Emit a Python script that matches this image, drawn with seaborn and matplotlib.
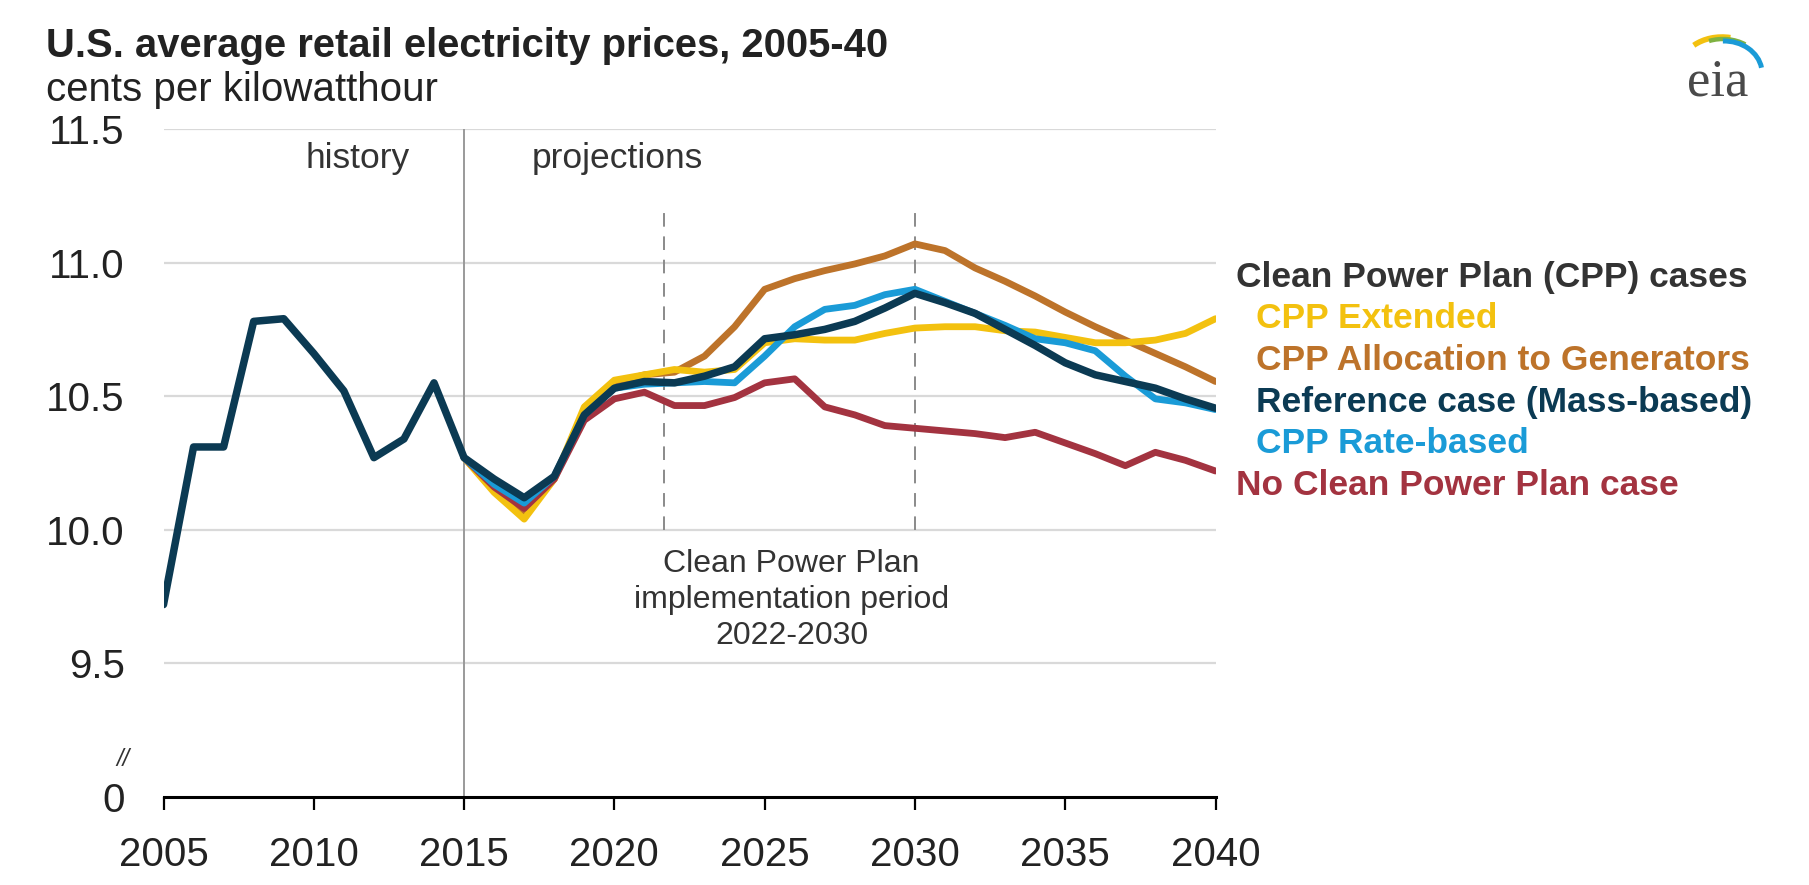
import numpy as np
import pandas as pd
import matplotlib
matplotlib.use("Agg")
import matplotlib.pyplot as plt
from matplotlib.patches import Arc
import seaborn as sns

# ---------------- data ----------------
years_all = list(range(2005, 2041))
years_proj = list(range(2015, 2041))

reference = [9.72, 10.31, 10.31, 10.78, 10.79, 10.66, 10.52, 10.27, 10.34, 10.55,
             10.27, 10.19, 10.12, 10.20, 10.43, 10.53, 10.555, 10.55, 10.575, 10.61,
             10.715, 10.73, 10.75, 10.78, 10.83, 10.885, 10.85, 10.81, 10.75, 10.69,
             10.625, 10.58, 10.555, 10.53, 10.49, 10.455]
cpp_extended = [10.27, 10.14, 10.04, 10.19, 10.46, 10.56, 10.58, 10.60, 10.59, 10.60,
                10.70, 10.715, 10.71, 10.71, 10.735, 10.755, 10.76, 10.76, 10.745, 10.74,
                10.72, 10.70, 10.70, 10.71, 10.735, 10.79]
cpp_allocation = [10.27, 10.15, 10.06, 10.19, 10.44, 10.55, 10.58, 10.59, 10.65, 10.76,
                  10.90, 10.94, 10.97, 10.995, 11.025, 11.07, 11.045, 10.98, 10.93, 10.875,
                  10.815, 10.76, 10.71, 10.66, 10.61, 10.555]
cpp_rate = [10.27, 10.17, 10.10, 10.20, 10.43, 10.53, 10.545, 10.55, 10.555, 10.55,
            10.65, 10.76, 10.825, 10.84, 10.88, 10.90, 10.855, 10.81, 10.765, 10.715,
            10.70, 10.67, 10.575, 10.49, 10.475, 10.45]
no_cpp = [10.27, 10.16, 10.08, 10.19, 10.41, 10.49, 10.515, 10.465, 10.465, 10.495,
          10.55, 10.565, 10.46, 10.43, 10.39, 10.38, 10.37, 10.36, 10.345, 10.365,
          10.325, 10.285, 10.24, 10.29, 10.26, 10.22]

x_ticks = [2005, 2010, 2015, 2020, 2025, 2030, 2035, 2040]
y_ticks = [9.0, 9.5, 10.0, 10.5, 11.0, 11.5]
y_ticklabels = ["0", "9.5", "10.0", "10.5", "11.0", "11.5"]

legend_header = "Clean Power Plan (CPP) cases"
legend_labels = ["CPP Extended", "CPP Allocation to Generators",
                 "Reference case (Mass-based)", "CPP Rate-based",
                 "No Clean Power Plan case"]

# ---------------- style ----------------
C_YEL = "#f3c10f"
C_ORG = "#bd732a"
C_NAV = "#0b3a53"
C_BLU = "#1a9bd7"
C_RED = "#a33340"
C_TXT = "#333333"
C_GRID = "#d9d9d9"

sns.set_theme(style="white")
plt.rcParams["font.family"] = ["Liberation Sans", "DejaVu Sans"]

W, H = 1809, 885
fig = plt.figure(figsize=(W / 100, H / 100), dpi=100)
ax = fig.add_axes([163.5 / W, 1 - 797 / H, (1215.5 - 163.5) / W, (797 - 129) / H])

df = pd.concat([
    pd.DataFrame({"year": years_proj, "price": cpp_allocation, "case": legend_labels[1]}),
    pd.DataFrame({"year": years_proj, "price": cpp_extended, "case": legend_labels[0]}),
    pd.DataFrame({"year": years_proj, "price": no_cpp, "case": legend_labels[4]}),
    pd.DataFrame({"year": years_proj, "price": cpp_rate, "case": legend_labels[3]}),
    pd.DataFrame({"year": years_all, "price": reference, "case": legend_labels[2]}),
])
colors = {legend_labels[0]: C_YEL, legend_labels[1]: C_ORG, legend_labels[2]: C_NAV,
          legend_labels[3]: C_BLU, legend_labels[4]: C_RED}
order = [legend_labels[1], legend_labels[0], legend_labels[4], legend_labels[3], legend_labels[2]]
for i, case in enumerate(order):
    sub = df[df["case"] == case]
    sns.lineplot(data=sub, x="year", y="price", color=colors[case], ax=ax,
                 linewidth=5.4 if case == legend_labels[2] else 4.9,
                 zorder=5 + i, legend=False, solid_joinstyle="round")

ax.set_xlim(2005, 2040)
ax.set_ylim(9.0, 11.5)
ax.set_xticks(x_ticks)
ax.set_xticklabels([str(v) for v in x_ticks])
ax.set_yticks(y_ticks)
ax.set_yticklabels(y_ticklabels)
ax.set_xlabel("")
ax.set_ylabel("")

for v in y_ticks[1:]:
    ax.axhline(v, color=C_GRID, lw=1.6, zorder=1)

for s in ["top", "right", "left"]:
    ax.spines[s].set_visible(False)
ax.spines["bottom"].set_color("black")
ax.spines["bottom"].set_linewidth(2.2)
ax.spines["bottom"].set_zorder(20)

ax.tick_params(axis="x", which="major", direction="out", length=9, width=1.6,
               color="black", labelsize=29, labelcolor="#222222", pad=19, bottom=True)
ax.tick_params(axis="y", which="major", length=0, labelsize=29,
               labelcolor="#222222", pad=28)

# history / projections divider and CPP period
ax.axvline(2015, ymin=0, ymax=1, color="#9a9a9a", lw=1.4, zorder=2)
for xv in [2021.65, 2030]:
    ax.plot([xv, xv], [10.0, 11.21], color="#8a8a8a", lw=1.4,
            dashes=(7, 5), zorder=2)

ax.text(2011.45, 11.39, "history", ha="center", va="center", fontsize=25.5, color=C_TXT)
ax.text(2020.1, 11.39, "projections", ha="center", va="center", fontsize=25.5, color=C_TXT)
ax.text(2025.9, 9.93, "Clean Power Plan\nimplementation period\n2022-2030",
        ha="center", va="top", fontsize=23, color=C_TXT, linespacing=1.27)

# axis break mark
ax.text(2003.65, 9.14, "//", ha="center", va="center", fontsize=17,
        style="italic", color="#333333", clip_on=False)

# title
fig.text(46 / W, 1 - 46 / H, "U.S. average retail electricity prices, 2005-40",
         ha="left", va="center", fontsize=28.8, fontweight="bold", color="#222222")
fig.text(46 / W, 1 - 90 / H, "cents per kilowatthour",
         ha="left", va="center", fontsize=29, color="#222222")

# right-hand legend
y0 = 277
dy = 41.7
fig.text(1236 / W, 1 - y0 / H, legend_header, ha="left", va="center",
         fontsize=25.5, fontweight="bold", color=C_TXT)
legend_colors = [C_YEL, C_ORG, C_NAV, C_BLU, C_RED]
for i, (lab, col) in enumerate(zip(legend_labels, legend_colors)):
    xx = 1256 if i < 4 else 1236
    fig.text(xx / W, 1 - (y0 + dy * (i + 1)) / H, lab, ha="left", va="center",
             fontsize=25.5, fontweight="bold", color=col)

# eia logo
lax = fig.add_axes([1660 / W, 1 - 115 / H, 120 / W, 100 / H])
lax.set_xlim(0, 120)
lax.set_ylim(0, 100)
lax.axis("off")
lax.text(58, 32, "eia", ha="center", va="center", fontsize=38,
         family=["Liberation Serif", "DejaVu Serif"], color="#4a4a4a")
lax.add_patch(Arc((62, 46), 84, 64, theta1=75, theta2=140, color="#f3c10f", lw=4))
lax.add_patch(Arc((63, 44), 80, 64, theta1=50, theta2=115, color="#7fb241", lw=3.2))
lax.add_patch(Arc((64, 42), 76, 64, theta1=8, theta2=92, color="#1a9bd7", lw=3.6))

fig.savefig("out.png", dpi=100, facecolor="white")
